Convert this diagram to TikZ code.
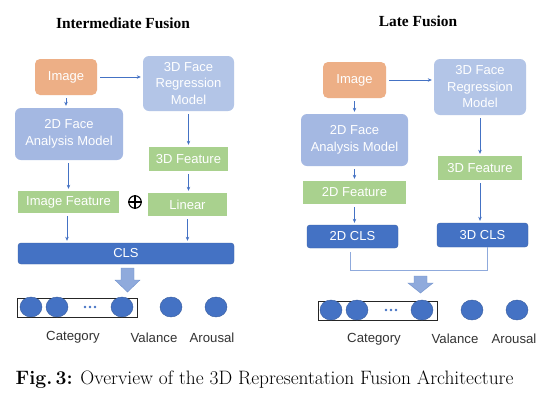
\documentclass[tikz,border=0pt]{standalone}
\usepackage{fontspec}
\newfontfamily\boxfont{Liberation Sans}
\newfontfamily\titlefont{Liberation Serif}
\usetikzlibrary{arrows.meta,shapes.geometric}
\definecolor{imgorange}{HTML}{EDAF86}
\definecolor{facetwo}{HTML}{A4B8E2}
\definecolor{facethree}{HTML}{B3C5E7}
\definecolor{featgreen}{HTML}{A9D18E}
\definecolor{clsblue}{HTML}{4472C4}
\definecolor{lightarrow}{HTML}{8FAADC}
\definecolor{lightarrowedge}{HTML}{6F90CC}
\definecolor{labelgray}{HTML}{333333}
\tikzset{
  box/.style={inner sep=0pt, text=white, align=center,
    font=\boxfont\fontsize{13}{16.5}\selectfont},
  imgbox/.style={box, rounded corners=5pt, fill=imgorange},
  face2box/.style={box, rounded corners=6pt, fill=facetwo},
  face3box/.style={box, rounded corners=6pt, fill=facethree},
  featbox/.style={box, fill=featgreen},
  clsbox/.style={box, rounded corners=3pt, fill=clsblue, draw=clsblue!85!black, line width=0.4pt},
  arr/.style={-{Stealth[length=4pt,width=3.5pt]}, draw=clsblue, line width=0.6pt, shorten >=2pt, shorten <=3pt},
  dot/.style={ellipse, minimum width=22pt, minimum height=20pt, inner sep=0pt, fill=clsblue, draw=clsblue!80!black, line width=0.4pt},
  catframe/.style={draw=black!85, line width=0.8pt, fill=white},
  lbl/.style={text=labelgray, font=\boxfont\fontsize{13.2}{15}\selectfont},
  ttl/.style={font=\titlefont\bfseries\fontsize{15.4}{18}\selectfont},
  blockarrow/.style={fill=lightarrow, draw=lightarrowedge, line width=0.4pt, line join=miter},
  oplusnode/.style={circle, draw=black, line width=1.1pt, minimum size=12.5pt, inner sep=0pt},
}
\begin{document}
\begin{tikzpicture}[x=1pt,y=-1pt]
\path[use as bounding box, fill=white] (0,0) rectangle (545,402);

% ---------------- Intermediate fusion ----------------
\node[ttl] (ttlL) at (123,23) {Intermediate Fusion};
\node[imgbox, minimum width=62pt, minimum height=36pt] (imgL) at (66,77) {Image};
\node[face3box, minimum width=91pt, minimum height=55pt] (frmL) at (188.5,83.5) {3D Face\\Regression\\Model};
\node[face2box, minimum width=108pt, minimum height=52pt] (faL) at (69,134) {2D Face\\Analysis Model};
\node[featbox, minimum width=79pt, minimum height=24pt] (f3L) at (188.5,159) {3D Feature};
\node[featbox, minimum width=101pt, minimum height=22pt] (ifL) at (68.5,202) {Image Feature};
\node[featbox, minimum width=79pt, minimum height=23pt] (linL) at (187.5,204.5) {Linear};
\node[oplusnode] (plusL) at (135,202) {};
\draw[line width=1.1pt] (plusL.north) -- (plusL.south) (plusL.west) -- (plusL.east);
\node[clsbox, minimum width=216pt, minimum height=21pt] (clsL) at (126,253.5) {CLS};

\draw[arr] (imgL.east) -- (imgL.east -| frmL.west);
\draw[arr] (imgL.south) -- (imgL.south |- faL.north);
\draw[arr] (faL.south -| ifL.north) -- (ifL.north);
\draw[arr] (frmL.south) -- (frmL.south |- f3L.north);
\draw[arr] (f3L.south) -- (f3L.south |- linL.north);
\draw[arr] ([xshift=-1.5pt]ifL.south) -- ([xshift=-1.5pt]ifL.south |- clsL.north);
\draw[arr] (linL.south) -- (linL.south |- clsL.north);

\draw[blockarrow] (121,268) -- (134,268) -- (134,280) -- (140,280) -- (127.5,292) -- (115,280) -- (121,280) -- cycle;

\node[catframe, minimum width=120pt, minimum height=19pt, inner sep=0pt] (catL) at (77,307.5) {};
\node[dot] (cL1) at (31,307) {};
\node[dot] (cL2) at (57,307) {};
\node[dot] (cL3) at (122,307) {};
\fill[clsblue] (85,307) circle (1.4pt) (90,307) circle (1.4pt) (95,307) circle (1.4pt);
\node[dot] (vL) at (171,307) {};
\node[dot] (aL) at (216,307) {};
\node[lbl] (catLbl) at (73,337) {Category};
\node[lbl] (valLbl) at (154,338) {Valance};
\node[lbl] (aroLbl) at (212,338) {Arousal};

% ---------------- Late fusion ----------------
\node[ttl] (ttlR) at (418,21) {Late Fusion};
\node[imgbox, minimum width=63pt, minimum height=36pt] (imgR) at (354.5,80) {Image};
\node[face3box, minimum width=92pt, minimum height=56pt] (frmR) at (480,87) {3D Face\\Regression\\Model};
\node[face2box, minimum width=107pt, minimum height=52pt] (faR) at (354.5,140) {2D Face\\Analysis Model};
\node[featbox, minimum width=84pt, minimum height=24pt] (f3R) at (480,168) {3D Feature};
\node[featbox, minimum width=103pt, minimum height=23pt] (f2R) at (354.5,192.5) {2D Feature};
\node[clsbox, minimum width=91pt, minimum height=23pt] (cls2R) at (352.5,236.5) {2D CLS};
\node[clsbox, minimum width=91pt, minimum height=24pt] (cls3R) at (482.5,235) {3D CLS};

\draw[arr] (imgR.east) -- (imgR.east -| frmR.west);
\draw[arr] (imgR.south) -- (imgR.south |- faR.north);
\draw[arr] (faR.south) -- (faR.south |- f2R.north);
\draw[arr] (frmR.south) -- (frmR.south |- f3R.north);
\draw[arr] (f2R.south) -- (f2R.south |- cls2R.north);
\draw[arr] (f3R.south) -- (f3R.south |- cls3R.north);

\coordinate (joinL) at ([xshift=-2.5pt,yshift=-22pt]cls2R.south);
\coordinate (joinR) at ([xshift=4.5pt]cls3R.south);
\draw[draw=lightarrow, line width=0.8pt, shorten <=4pt] ([xshift=-2.5pt]cls2R.south) -- (joinL) -- (joinL -| joinR) -- (joinR);

\draw[blockarrow] (414,276) -- (427,276) -- (427,283) -- (433,283) -- (420.5,293) -- (408,283) -- (414,283) -- cycle;

\node[catframe, minimum width=119pt, minimum height=19pt, inner sep=0pt] (catR) at (377.5,310.5) {};
\node[dot] (cR1) at (331,310) {};
\node[dot] (cR2) at (357,310) {};
\node[dot] (cR3) at (422,310) {};
\fill[clsblue] (386,310) circle (1.4pt) (391,310) circle (1.4pt) (396,310) circle (1.4pt);
\node[dot] (vR) at (472,310) {};
\node[dot] (aR) at (517,310) {};
\node[lbl] (catLblR) at (374,339) {Category};
\node[lbl] (valLblR) at (455,339) {Valance};
\node[lbl] (aroLblR) at (514,339) {Arousal};

% ---------------- Caption ----------------
\node[font=\fontsize{19.4}{23}\selectfont] (cap) at (264.5,380) {\textbf{Fig.\,3:} Overview of the 3D Representation Fusion Architecture};
\end{tikzpicture}
\end{document}
